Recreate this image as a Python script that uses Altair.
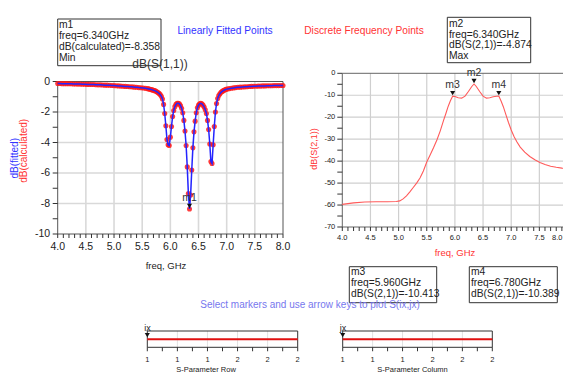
import altair as alt
import pandas as pd

FONT = "Liberation Sans"
W, H = 555, 365

# ---------------- data ----------------
s11_freq = [4.00, 4.04, 4.08, 4.12, 4.16, 4.20, 4.24, 4.28, 4.32, 4.36,
            4.40, 4.44, 4.48, 4.52, 4.56, 4.60, 4.64, 4.68, 4.72, 4.76,
            4.80, 4.84, 4.88, 4.92, 4.96, 5.00, 5.04, 5.08, 5.12, 5.16,
            5.20, 5.24, 5.28, 5.32, 5.36, 5.40, 5.44, 5.48, 5.52, 5.56, 5.60,
            5.62, 5.64, 5.66, 5.68, 5.70, 5.72, 5.74, 5.76, 5.78, 5.80,
            5.82, 5.84, 5.86, 5.88, 5.90, 5.92, 5.94, 5.96, 5.98, 6.00,
            6.02, 6.04, 6.06, 6.08, 6.10, 6.12, 6.14, 6.16, 6.18, 6.20,
            6.22, 6.24, 6.26, 6.28, 6.30, 6.32, 6.34, 6.36, 6.38, 6.40,
            6.42, 6.44, 6.46, 6.48, 6.50, 6.52, 6.54, 6.56, 6.58, 6.60,
            6.62, 6.64, 6.66, 6.68, 6.70, 6.72, 6.74, 6.76, 6.78, 6.80,
            6.82, 6.84, 6.86, 6.88, 6.90, 6.92, 6.94, 6.96, 6.98, 7.00,
            7.04, 7.08, 7.12, 7.16, 7.20, 7.24, 7.28, 7.32, 7.36, 7.40,
            7.44, 7.48, 7.52, 7.56, 7.60, 7.64, 7.68, 7.72, 7.76, 7.80,
            7.84, 7.88, 7.92, 7.96, 8.00]
s11_db = [-0.13, -0.13, -0.14, -0.14, -0.14, -0.15, -0.15, -0.16, -0.16, -0.17,
          -0.17, -0.18, -0.18, -0.19, -0.19, -0.20, -0.20, -0.21, -0.22, -0.22,
          -0.23, -0.24, -0.24, -0.25, -0.26, -0.27, -0.28, -0.29, -0.30, -0.31,
          -0.32, -0.33, -0.34, -0.35, -0.37, -0.38, -0.40, -0.41, -0.43, -0.45, -0.47,
          -0.49, -0.51, -0.53, -0.55, -0.57, -0.60, -0.63, -0.67, -0.72, -0.78,
          -0.86, -0.97, -1.15, -1.50, -2.10, -2.90, -3.80, -4.15, -4.20, -3.65,
          -2.95, -2.30, -1.90, -1.65, -1.50, -1.43, -1.43, -1.47, -1.57, -1.75,
          -2.05, -2.55, -3.25, -4.20, -5.60, -7.35, -8.358, -7.45, -5.80, -4.35,
          -3.30, -2.60, -2.05, -1.72, -1.55, -1.46, -1.43, -1.46, -1.55, -1.67,
          -1.85, -2.10, -2.55, -3.15, -4.10, -5.25, -5.38, -4.15, -2.95, -2.00,
          -1.45, -1.12, -0.92, -0.80, -0.71, -0.65, -0.60, -0.56, -0.53, -0.50,
          -0.47, -0.44, -0.42, -0.40, -0.38, -0.37, -0.36, -0.35, -0.34, -0.33,
          -0.32, -0.31, -0.31, -0.30, -0.30, -0.29, -0.29, -0.28, -0.28, -0.28,
          -0.27, -0.27, -0.27, -0.26, -0.26]

s21_freq = [4.00, 4.20, 4.40, 4.60, 4.80, 4.96, 5.02, 5.08, 5.14, 5.20,
            5.26, 5.32, 5.38, 5.44, 5.50, 5.56, 5.62, 5.68, 5.74, 5.80,
            5.84, 5.88, 5.92, 5.96, 6.00, 6.06, 6.12, 6.18, 6.24, 6.30,
            6.34, 6.38, 6.44, 6.50, 6.56, 6.62, 6.68, 6.74, 6.78, 6.82,
            6.86, 6.90, 6.95, 7.00, 7.05, 7.10, 7.16, 7.24, 7.33, 7.42,
            7.51, 7.60, 7.70, 7.80, 7.90, 8.00]
s21_db = [-59.7, -59.0, -58.6, -58.5, -58.5, -58.4, -58.1, -57.2, -55.8, -54.0,
          -52.0, -50.0, -47.7, -44.5, -40.4, -37.2, -33.9, -30.4, -26.2, -21.3,
          -18.3, -15.1, -12.5, -10.413, -10.6, -11.1, -11.3, -10.4, -8.3, -6.0,
          -4.874, -6.0, -8.3, -10.4, -11.3, -11.1, -10.7, -10.45, -10.389, -12.6,
          -15.2, -18.4, -22.3, -25.8, -28.8, -31.2, -33.6, -35.9, -37.9, -39.4,
          -40.6, -41.5, -42.3, -42.8, -43.2, -43.5]

m1_name, m1_freq, m1_db = ["m1"], [6.34], [-8.358]
s21_mk_name = ["m3", "m2", "m4"]
s21_mk_freq = [5.96, 6.34, 6.78]
s21_mk_db = [-10.413, -4.874, -10.389]

freq_ticks = [4.0, 4.1, 4.2, 4.3, 4.4, 4.5, 4.6, 4.7, 4.8, 4.9, 5.0, 5.1, 5.2, 5.3,
              5.4, 5.5, 5.6, 5.7, 5.8, 5.9, 6.0, 6.1, 6.2, 6.3, 6.4, 6.5, 6.6, 6.7,
              6.8, 6.9, 7.0, 7.1, 7.2, 7.3, 7.4, 7.5, 7.6, 7.7, 7.8, 7.9, 8.0]
freq_major = [4.0, 4.5, 5.0, 5.5, 6.0, 6.5, 7.0, 7.5, 8.0]
freq_labels = ["4.0", "4.5", "5.0", "5.5", "6.0", "6.5", "7.0", "7.5", "8.0"]
freq_grid = [4.5, 5.0, 5.5, 6.0, 6.5, 7.0, 7.5]

l_y_ticks = [-10, -9, -8, -7, -6, -5, -4, -3, -2, -1, 0]
l_y_major = [-10, -8, -6, -4, -2, 0]
l_y_labels = ["-10", "-8", "-6", "-4", "-2", "0"]
l_y_grid = [-8, -6, -4, -2]

r_y_ticks = [-70, -65, -60, -55, -50, -45, -40, -35, -30, -25, -20, -15, -10, -5, 0]
r_y_major = [-70, -60, -50, -40, -30, -20, -10, 0]
r_y_labels = ["-70", "-60", "-50", "-40", "-30", "-20", "-10", "0"]
r_y_grid = [-60, -50, -40, -30, -20, -10]

slider_ticks = [1.0, 1.1, 1.2, 1.3, 1.4, 1.5, 1.6, 1.7, 1.8, 1.9, 2.0]
slider_major = [1.0, 1.2, 1.4, 1.6, 1.8, 2.0]
slider_labels = ["1", "1", "1", "2", "2", "2"]
slider_grid = [1.2, 1.4, 1.6, 1.8]
slider_value = [1.0]


# ---------------- scales (canvas pixels) ----------------
def sc(dom, rng):
    return alt.Scale(domain=dom, range=rng, nice=False, zero=False)


LX = sc([4, 8], [49.7, 275.0])
LY = sc([-10, 0], [226.0, 73.5])
RX = sc([4, 8], [334.3, 559.5])
RY = sc([-70, 0], [219.0, 65.3])
S1X = sc([1, 2], [139.3, 289.7])
S2X = sc([1, 2], [334.7, 484.3])
SY = sc([0, 1], [339.3, 323.0])

TICK_COLOR = "#333333"
LABEL_COLOR = "#222222"


def X(field, s):
    return alt.X(field, scale=s, axis=None)


def Y(field, s):
    return alt.Y(field, scale=s, axis=None)


def bottom_axis(xs, ys, at, ticks, major, labels, fs, tick_len, label_dy, last_inside=False):
    tdf = pd.DataFrame({"v": ticks, "at": [at] * len(ticks)})
    layers = [alt.Chart(tdf).mark_tick(orient="vertical", size=tick_len, thickness=1,
                                       color=TICK_COLOR, opacity=1, yOffset=tick_len / 2).encode(
        x=X("v:Q", xs), y=Y("at:Q", ys))]
    n = len(major) - 1 if last_inside else len(major)
    ldf = pd.DataFrame({"v": major[:n], "at": [at] * n, "t": labels[:n]})
    layers.append(alt.Chart(ldf).mark_text(font=FONT, fontSize=fs, color=LABEL_COLOR,
                                           align="center", baseline="middle", dy=label_dy).encode(
        x=X("v:Q", xs), y=Y("at:Q", ys), text="t:N"))
    if last_inside:
        edf = pd.DataFrame({"v": major[n:], "at": [at], "t": labels[n:]})
        layers.append(alt.Chart(edf).mark_text(font=FONT, fontSize=fs, color=LABEL_COLOR,
                                               align="right", baseline="middle", dy=label_dy,
                                               dx=-5).encode(
            x=X("v:Q", xs), y=Y("at:Q", ys), text="t:N"))
    return layers


def left_axis(xs, ys, at, ticks, major, labels, fs, tick_len, label_dx):
    tdf = pd.DataFrame({"v": ticks, "at": [at] * len(ticks)})
    ldf = pd.DataFrame({"v": major, "at": [at] * len(major), "t": labels})
    tk = alt.Chart(tdf).mark_tick(orient="horizontal", size=tick_len, thickness=1,
                                  color=TICK_COLOR, opacity=1, xOffset=-tick_len / 2).encode(
        x=X("at:Q", xs), y=Y("v:Q", ys))
    lb = alt.Chart(ldf).mark_text(font=FONT, fontSize=fs, color=LABEL_COLOR,
                                  align="right", baseline="middle", dx=label_dx).encode(
        x=X("at:Q", xs), y=Y("v:Q", ys), text="t:N")
    return [tk, lb]


def panel_base(xs, ys, xdom, ydom, gx, gy, gcolor, gwidth, frame_color):
    layers = []
    if gx:
        gxdf = pd.DataFrame({"v": gx, "lo": [ydom[0]] * len(gx), "hi": [ydom[1]] * len(gx)})
        layers.append(alt.Chart(gxdf).mark_rule(color=gcolor, strokeWidth=gwidth).encode(
            x=X("v:Q", xs), y=Y("lo:Q", ys), y2="hi:Q"))
    if gy:
        gydf = pd.DataFrame({"v": gy, "lo": [xdom[0]] * len(gy), "hi": [xdom[1]] * len(gy)})
        layers.append(alt.Chart(gydf).mark_rule(color=gcolor, strokeWidth=gwidth).encode(
            y=Y("v:Q", ys), x=X("lo:Q", xs), x2="hi:Q"))
    fr = pd.DataFrame({"x0": [xdom[0]], "x1": [xdom[1]], "y0": [ydom[0]], "y1": [ydom[1]]})
    layers.append(alt.Chart(fr).mark_rect(fillOpacity=0, stroke=frame_color, strokeWidth=1).encode(
        x=X("x0:Q", xs), x2="x1:Q", y=Y("y0:Q", ys), y2="y1:Q"))
    return layers


# ---------------- left plot: dB(S(1,1)) ----------------
s11 = pd.DataFrame({"freq": s11_freq, "db": s11_db})
m1 = pd.DataFrame({"name": m1_name, "freq": m1_freq, "db": m1_db})

left_layers = panel_base(LX, LY, [4, 8], [-10, 0], freq_grid, l_y_grid, "#d9d9d9", 1.6, "#555555")
left_layers += bottom_axis(LX, LY, -10, freq_ticks, freq_major, freq_labels, 10.5, 4, 12.7)
left_layers += left_axis(LX, LY, 4, l_y_ticks, l_y_major, l_y_labels, 10.5, 5, -7.5)
left_layers.append(alt.Chart(s11).mark_circle(size=26, color="#ff1a1a", opacity=0.85).encode(
    x=X("freq:Q", LX), y=Y("db:Q", LY)))
left_layers.append(alt.Chart(s11).mark_line(color="#2424ff", strokeWidth=1.5).encode(
    x=X("freq:Q", LX), y=Y("db:Q", LY)))
left_layers.append(alt.Chart(m1).mark_point(shape="triangle-down", filled=True, size=26,
                                            color="#111111", opacity=1, yOffset=-3).encode(
    x=X("freq:Q", LX), y=Y("db:Q", LY)))
left_layers.append(alt.Chart(m1).mark_text(font=FONT, fontSize=10.5, color="#333333", dy=-11).encode(
    x=X("freq:Q", LX), y=Y("db:Q", LY), text="name:N"))
left = alt.layer(*left_layers)

# ---------------- right plot: dB(S(2,1)) ----------------
s21 = pd.DataFrame({"freq": s21_freq, "db": s21_db})
mk = pd.DataFrame({"name": s21_mk_name, "freq": s21_mk_freq, "db": s21_mk_db})

right_layers = panel_base(RX, RY, [4, 8], [-70, 0], freq_grid, r_y_grid, "#cfcfcf", 1.2, "#666666")
right_layers += bottom_axis(RX, RY, -70, freq_ticks, freq_major, freq_labels, 7.5, 4, 10.5,
                            last_inside=True)
right_layers += left_axis(RX, RY, 4, r_y_ticks, r_y_major, r_y_labels, 7.5, 5, -7)
right_layers.append(alt.Chart(s21).mark_line(color="#ff5a5a", strokeWidth=1.1).encode(
    x=X("freq:Q", RX), y=Y("db:Q", RY)))
right_layers.append(alt.Chart(mk).mark_point(shape="triangle-down", filled=True, size=26,
                                             color="#111111", opacity=1, yOffset=-3).encode(
    x=X("freq:Q", RX), y=Y("db:Q", RY)))
right_layers.append(alt.Chart(mk).mark_text(font=FONT, fontSize=10.5, color="#333333", dy=-11).encode(
    x=X("freq:Q", RX), y=Y("db:Q", RY), text="name:N"))
right = alt.layer(*right_layers)


# ---------------- sliders ----------------
def slider(xs):
    layers = panel_base(xs, SY, [1, 2], [0, 1], slider_grid, [], "#e2e2e2", 1.0, "#333333")
    layers += bottom_axis(xs, SY, 0, slider_ticks, slider_major, slider_labels, 7.5, 4, 13)
    line = pd.DataFrame({"x0": [1.0], "x1": [2.0], "y": [0.5]})
    layers.append(alt.Chart(line).mark_rule(color="#e01010", strokeWidth=2).encode(
        x=X("x0:Q", xs), x2="x1:Q", y=Y("y:Q", SY)))
    sv = pd.DataFrame({"v": slider_value, "y": [0.5]})
    layers.append(alt.Chart(sv).mark_point(shape="triangle-down", filled=True, size=26,
                                           color="#111111", opacity=1, yOffset=-4).encode(
        x=X("v:Q", xs), y=Y("y:Q", SY)))
    return alt.layer(*layers)


slider_row = slider(S1X)
slider_col = slider(S2X)

# ---------------- annotations ----------------
ONE = pd.DataFrame({"k": [0]})


def txt(x, y, s, fs, color="#222222", align="center", baseline="middle", angle=None, lh=None):
    kw = dict(font=FONT, fontSize=fs, color=color, align=align, baseline=baseline)
    if angle is not None:
        kw["angle"] = angle
    if lh is not None:
        kw["lineHeight"] = lh
    return alt.Chart(ONE).mark_text(**kw).encode(x=alt.value(x), y=alt.value(y), text=alt.value(s))


def box(x0, y0, x1, y1):
    return alt.Chart(ONE).mark_rect(fill="white", stroke="#333333", strokeWidth=1).encode(
        x=alt.value(x0), x2=alt.value(x1), y=alt.value(y0), y2=alt.value(y1))


ann = [
    box(49.7, 11.0, 153.0, 57.7),
    txt(51, 20.3, ["m1", "freq=6.340GHz", "dB(calculated)=-8.358", "Min"], 10.3,
        align="left", baseline="alphabetic", lh=10.8),
    box(439.3, 9.3, 522.7, 54.7),
    txt(441, 18.8, ["m2", "freq=6.340GHz", "dB(S(2,1))=-4.874", "Max"], 10.3,
        align="left", baseline="alphabetic", lh=10.8),
    box(341.3, 258.7, 428.7, 294.7),
    txt(343, 267.3, ["m3", "freq=5.960GHz", "dB(S(2,1))=-10.413"], 10.3,
        align="left", baseline="alphabetic", lh=11.0),
    box(461.3, 258.7, 549.3, 294.7),
    txt(463, 267.3, ["m4", "freq=6.780GHz", "dB(S(2,1))=-10.389"], 10.3,
        align="left", baseline="alphabetic", lh=11.0),
    txt(152, 56, "dB(S(1,1))", 12, color="#333333"),
    txt(217, 22.5, "Linearly Fitted Points", 10.2, color="#3333ff"),
    txt(356, 22.5, "Discrete Frequency Points", 10.2, color="#ff3333"),
    txt(158, 258, "freq, GHz", 9.5, color="#222222"),
    txt(447, 245, "freq, GHz", 9.5, color="#ff3333"),
    txt(6.5, 150.3, "dB(fitted)", 10, color="#3333ff", angle=270),
    txt(16, 142.8, "dB(calculated)", 10, color="#ff3333", angle=270),
    txt(306, 141, "dB(S(2,1))", 9, color="#ff3333", angle=270),
    txt(302, 297, "Select markers and use arrow keys to plot S(ix,jx)", 10, color="#7777ee"),
    txt(139.5, 319.5, "ix", 9, color="#222222"),
    txt(335, 319.5, "jx", 9, color="#222222"),
    txt(198, 362, "S-Parameter Row", 7.5, color="#222222"),
    txt(404.5, 362, "S-Parameter Column", 7.5, color="#222222"),
]

chart = alt.layer(left, right, slider_row, slider_col, *ann).resolve_scale(
    x="independent", y="independent"
).properties(
    width=W, height=H, autosize=alt.AutoSizeParams(type="none"), padding=0
).configure_view(stroke=None)

chart.save("out.html", embed_options={"renderer": "svg", "actions": False})
